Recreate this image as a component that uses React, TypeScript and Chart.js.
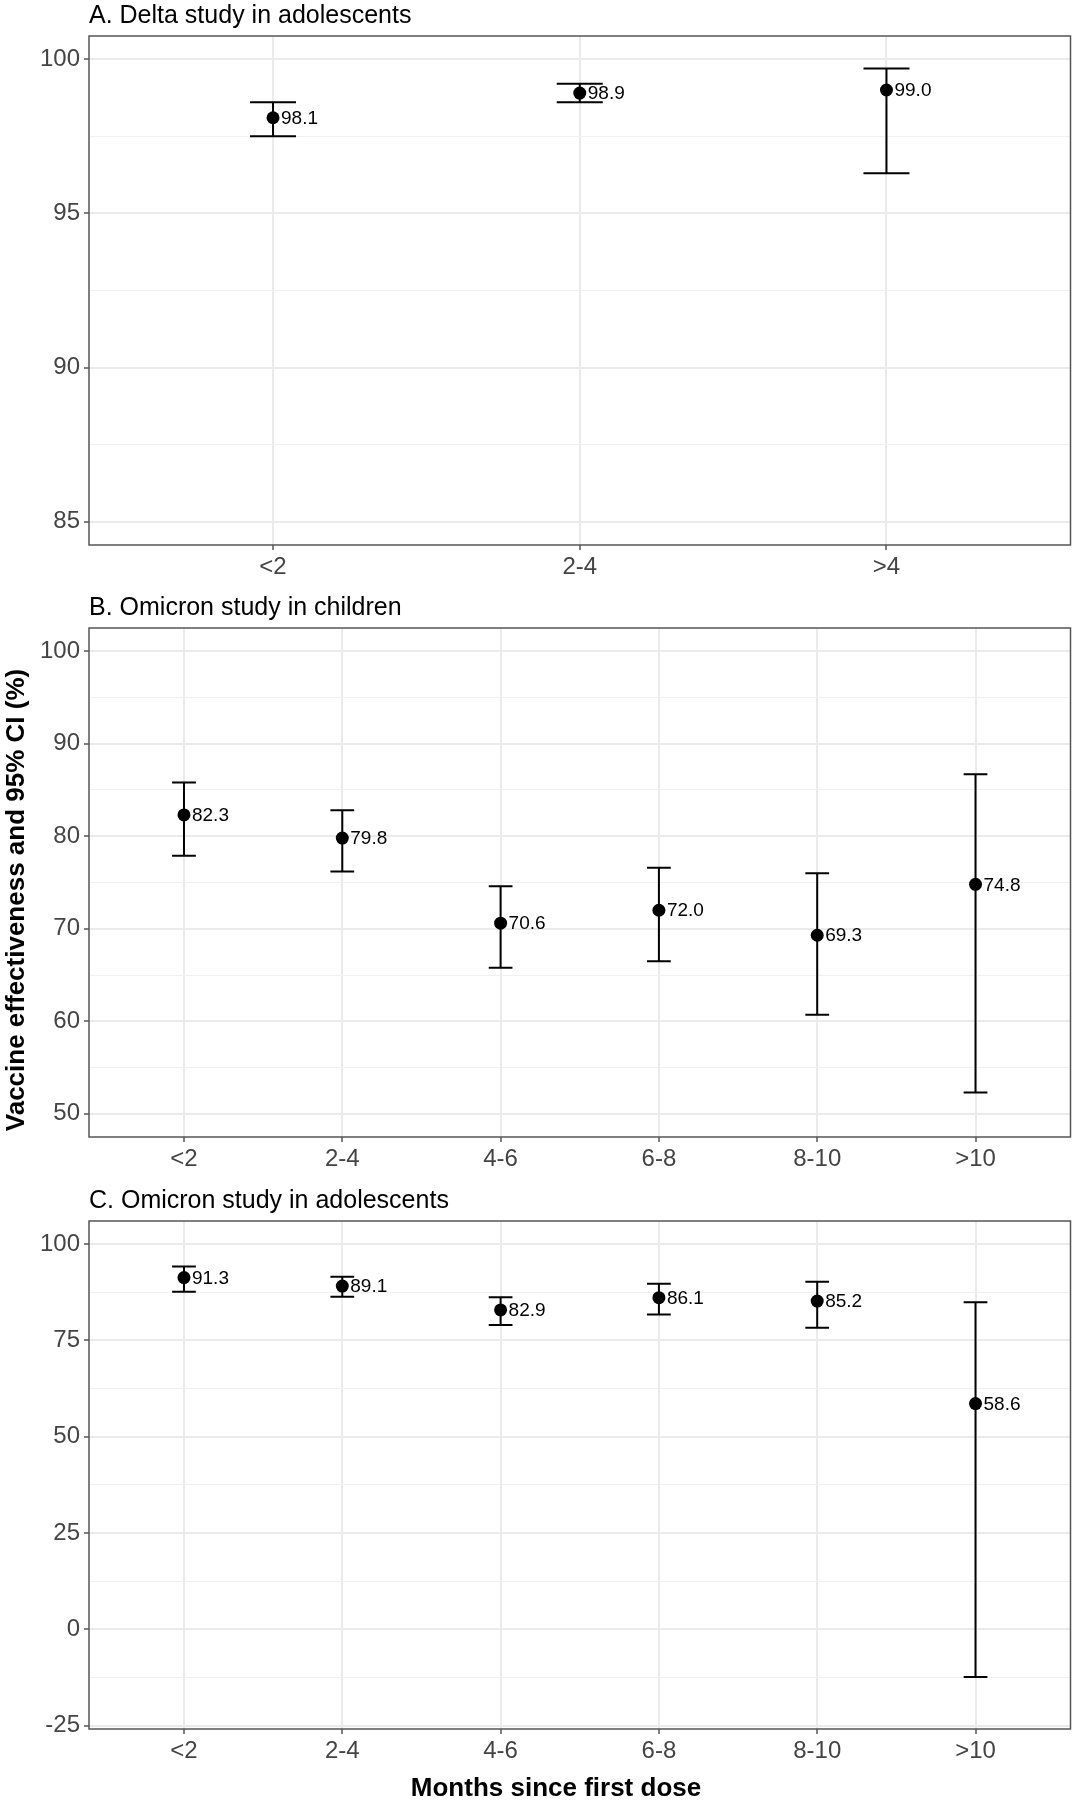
import React, { useEffect, useRef } from 'react';
import { Chart, registerables } from 'chart.js';

Chart.register(...registerables);

const FONT = '"Liberation Sans", Arial, Helvetica, sans-serif';

// A. Delta study in adolescents
const deltaCats = ['<2', '2-4', '>4'];
const deltaVE = [98.1, 98.9, 99.0];
const deltaLow = [97.5, 98.6, 96.3];
const deltaHigh = [98.6, 99.2, 99.7];
const deltaTicks = [85, 90, 95, 100];
const deltaMinor = [87.5, 92.5, 97.5];

// B. Omicron study in children
const omiCats = ['<2', '2-4', '4-6', '6-8', '8-10', '>10'];
const childVE = [82.3, 79.8, 70.6, 72.0, 69.3, 74.8];
const childLow = [77.9, 76.2, 65.8, 66.5, 60.7, 52.3];
const childHigh = [85.8, 82.8, 74.6, 76.6, 76.0, 86.7];
const childTicks = [50, 60, 70, 80, 90, 100];
const childMinor = [55, 65, 75, 85, 95];

// C. Omicron study in adolescents
const adolVE = [91.3, 89.1, 82.9, 86.1, 85.2, 58.6];
const adolLow = [87.6, 86.3, 79.0, 81.7, 78.3, -12.4];
const adolHigh = [94.2, 91.5, 86.2, 89.7, 90.2, 84.9];
const adolTicks = [-25, 0, 25, 50, 75, 100];
const adolMinor = [-12.5, 12.5, 37.5, 62.5, 87.5];

interface PanelSpec {
  title: string;
  cats: string[];
  ve: number[];
  low: number[];
  high: number[];
  ticks: number[];
  minor: number[];
  yMin: number;
  yMax: number;
  top: number;
  height: number;
  padTop: number;
  axisH: number;
  xTitle?: { text: string; x: number };
  yTitle?: { text: string; x: number; y: number };
}

const panels: PanelSpec[] = [
  {
    title: 'A. Delta study in adolescents', cats: deltaCats, ve: deltaVE, low: deltaLow, high: deltaHigh,
    ticks: deltaTicks, minor: deltaMinor, yMin: 84.25, yMax: 100.75,
    top: 0, height: 580, padTop: 36, axisH: 35,
  },
  {
    title: 'B. Omicron study in children', cats: omiCats, ve: childVE, low: childLow, high: childHigh,
    ticks: childTicks, minor: childMinor, yMin: 47.5, yMax: 102.5,
    top: 580, height: 590, padTop: 48, axisH: 33,
    yTitle: { text: 'Vaccine effectiveness and 95% CI (%)', x: 17, y: 320 },
  },
  {
    title: 'C. Omicron study in adolescents', cats: omiCats, ve: adolVE, low: adolLow, high: adolHigh,
    ticks: adolTicks, minor: adolMinor, yMin: -25.9, yMax: 106,
    top: 1170, height: 630, padTop: 51, axisH: 71,
    xTitle: { text: 'Months since first dose', x: 556 },
  },
];

const CAP_HALF = 0.075;

function makePlugin(p: PanelSpec) {
  return {
    id: 'forest',
    beforeDatasetsDraw(chart: any) {
      const { ctx, scales } = chart;
      const x = scales.x, y = scales.y;
      ctx.save();
      ctx.strokeStyle = '#000';
      ctx.lineWidth = 2;
      p.ve.forEach((_, i) => {
        const cx = x.getPixelForValue(i);
        const xl = x.getPixelForValue(i - CAP_HALF);
        const xr = x.getPixelForValue(i + CAP_HALF);
        const yl = y.getPixelForValue(p.low[i]);
        const yh = y.getPixelForValue(p.high[i]);
        ctx.beginPath();
        ctx.moveTo(cx, yl); ctx.lineTo(cx, yh);
        ctx.moveTo(xl, yl); ctx.lineTo(xr, yl);
        ctx.moveTo(xl, yh); ctx.lineTo(xr, yh);
        ctx.stroke();
      });
      ctx.restore();
    },
    afterDraw(chart: any) {
      const { ctx, chartArea, scales } = chart;
      const x = scales.x, y = scales.y;
      ctx.save();
      // value labels
      ctx.fillStyle = '#000';
      ctx.font = `19px ${FONT}`;
      ctx.textAlign = 'left';
      ctx.textBaseline = 'middle';
      p.ve.forEach((v, i) => {
        ctx.fillText(v.toFixed(1), x.getPixelForValue(i) + 8, y.getPixelForValue(v) + 1);
      });
      // panel border
      ctx.strokeStyle = '#555';
      ctx.lineWidth = 1.5;
      ctx.strokeRect(chartArea.left, chartArea.top, chartArea.right - chartArea.left, chartArea.bottom - chartArea.top);
      // panel title
      ctx.font = `25px ${FONT}`;
      ctx.textBaseline = 'alphabetic';
      ctx.fillText(p.title, chartArea.left, chartArea.top - 13);
      if (p.xTitle) {
        ctx.font = `bold 26px ${FONT}`;
        ctx.textAlign = 'center';
        ctx.fillText(p.xTitle.text, p.xTitle.x, p.height - 4);
      }
      if (p.yTitle) {
        ctx.translate(p.yTitle.x, p.yTitle.y);
        ctx.rotate(-Math.PI / 2);
        ctx.font = `bold 26px ${FONT}`;
        ctx.textAlign = 'center';
        ctx.textBaseline = 'middle';
        ctx.fillText(p.yTitle.text, 0, 0);
      }
      ctx.restore();
    },
  };
}

function Panel({ p }: { p: PanelSpec }) {
  const ref = useRef<HTMLCanvasElement>(null);
  useEffect(() => {
    const canvas = ref.current;
    if (!canvas) return;
    const isMajor = (v: number) => p.ticks.includes(v);
    const chart = new Chart(canvas, {
      type: 'scatter',
      data: {
        datasets: [{
          data: p.ve.map((v, i) => ({ x: i, y: v })),
          backgroundColor: '#000',
          borderColor: '#000',
          pointRadius: 6.5,
          pointHoverRadius: 6.5,
          borderWidth: 0,
        }],
      },
      options: {
        responsive: false,
        animation: false,
        events: [],
        layout: { padding: { top: p.padTop, right: 2, left: 0, bottom: 0 } },
        plugins: { legend: { display: false }, tooltip: { enabled: false }, title: { display: false } },
        scales: {
          x: {
            type: 'linear',
            min: -0.6,
            max: p.cats.length - 0.4,
            afterBuildTicks: (s: any) => { s.ticks = p.cats.map((_, i) => ({ value: i })); },
            afterFit: (s: any) => { s.height = p.axisH; },
            ticks: {
              callback: (v: any) => p.cats[v as number],
              font: { family: FONT, size: 24 },
              color: '#444',
              padding: 3,
              maxRotation: 0,
              autoSkip: false,
            },
            grid: { color: '#ebebeb', lineWidth: 2, tickColor: '#555', tickLength: 5, tickWidth: 1.5 },
            border: { display: false },
          },
          y: {
            type: 'linear',
            min: p.yMin,
            max: p.yMax,
            afterBuildTicks: (s: any) => {
              s.ticks = [...p.minor, ...p.ticks].sort((a, b) => a - b).map((v) => ({ value: v }));
            },
            afterFit: (s: any) => { s.width = 89; },
            ticks: {
              callback: (v: any) => (isMajor(v as number) ? String(v) : ''),
              font: { family: FONT, size: 24 },
              color: '#444',
              padding: 4,
              autoSkip: false,
            },
            grid: {
              color: (c: any) => (isMajor(c.tick?.value) ? '#ebebeb' : '#f0f0f0'),
              lineWidth: (c: any) => (isMajor(c.tick?.value) ? 2 : 1),
              tickColor: (c: any) => (isMajor(c.tick?.value) ? '#555' : 'rgba(0,0,0,0)'),
              tickLength: 5,
              tickWidth: 1.5,
            },
            border: { display: false },
          },
        },
      },
      plugins: [makePlugin(p)],
    } as any);
    return () => chart.destroy();
  }, [p]);
  return (
    <canvas
      ref={ref}
      width={1077}
      height={p.height}
      style={{ position: 'absolute', left: 0, top: p.top, width: 1077, height: p.height }}
    />
  );
}

export default function App() {
  useEffect(() => {
    document.body.style.margin = '0';
  }, []);
  return (
    <div style={{ position: 'relative', width: 1077, height: 1800, background: '#fff' }}>
      {panels.map((p) => <Panel key={p.title} p={p} />)}
    </div>
  );
}
